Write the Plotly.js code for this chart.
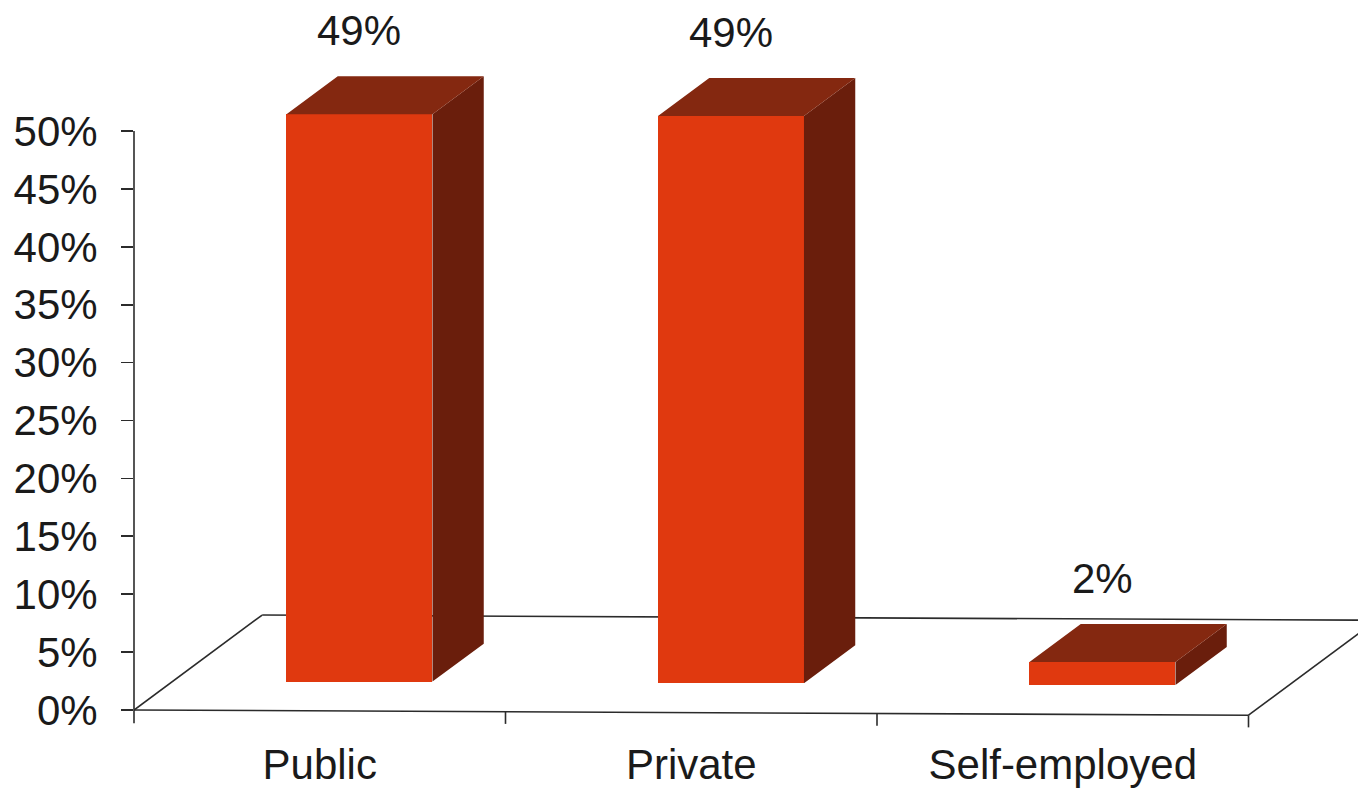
<!DOCTYPE html>
<html>
<head>
<meta charset="utf-8">
<script src="https://cdn.plot.ly/plotly-3.0.1.min.js"></script>
<style>html,body{margin:0;padding:0;background:#fff;}#chart{width:1358px;height:793px;}</style>
</head>
<body>
<div id="chart"></div>
<script>
// ---- data ----
const categories = ['Public', 'Private', 'Self-employed'];
const values = [49, 49, 2];
const valueLabels = ['49%', '49%', '2%'];
const yTickVals = [0, 5, 10, 15, 20, 25, 30, 35, 40, 45, 50];
const yTickText = ['0%', '5%', '10%', '15%', '20%', '25%', '30%', '35%', '40%', '45%', '50%'];

// ---- pseudo-3D geometry (style) ----
const FLOOR_DX = 0.345;   // depth shift in x units
const FLOOR_DY = 8.2;     // depth shift in y units
const FLOOR_TILT = -0.45; // slight tilt of the floor across the span
const BAR_FRONT = 0.31;   // fraction of depth where bar front face sits
const BAR_BACK = 0.71;
const BAR_W = 0.393;
const FRONT_COL = '#E0390F';
const TOP_COL = '#842810';
const SIDE_COL = '#6A1E0C';
const LINE_COL = '#2b2b2b';
const FONT = 'Liberation Sans, Arial, sans-serif';

const n = categories.length;
const xIdx = categories.map((_, i) => i);
const xl = -0.5, xr = n - 0.5;
const tiltAt = x => FLOOR_TILT * (x - xl) / (xr - xl);
const frontShiftX = BAR_FRONT * FLOOR_DX;
const ddx = (BAR_BACK - BAR_FRONT) * FLOOR_DX;
const ddy = (BAR_BACK - BAR_FRONT) * FLOOR_DY;
const barOffset = frontShiftX - BAR_W / 2;
const bases = xIdx.map(i => BAR_FRONT * FLOOR_DY + tiltAt(i + frontShiftX));

const traces = [];
// front faces
traces.push({
  type: 'bar', x: xIdx, y: values, base: bases, width: BAR_W, offset: barOffset,
  marker: {color: FRONT_COL, line: {width: 0}}, hoverinfo: 'skip', showlegend: false
});
// top and side faces
const topX = [], topY = [], sideX = [], sideY = [];
values.forEach((v, i) => {
  const b = bases[i];
  const x0 = i + barOffset, x1 = x0 + BAR_W, yt = b + v;
  topX.push(x0, x0 + ddx, x1 + ddx, x1, x0, null);
  topY.push(yt, yt + ddy, yt + ddy, yt, yt, null);
  sideX.push(x1, x1, x1 + ddx, x1 + ddx, x1, null);
  sideY.push(b, yt, yt + ddy, b + ddy, b, null);
});
traces.push({type: 'scatter', mode: 'lines', x: sideX, y: sideY, fill: 'toself',
  fillcolor: SIDE_COL, line: {width: 0, color: SIDE_COL}, hoverinfo: 'skip', showlegend: false});
traces.push({type: 'scatter', mode: 'lines', x: topX, y: topY, fill: 'toself',
  fillcolor: TOP_COL, line: {width: 0, color: TOP_COL}, hoverinfo: 'skip', showlegend: false});

// floor & axis lines
const shapes = [];
const ln = {color: LINE_COL, width: 1.6};
// y axis line
shapes.push({type: 'line', xref: 'paper', yref: 'y', x0: 0, x1: 0, y0: -1.15, y1: yTickVals[yTickVals.length - 1], line: ln});
// front floor edge
shapes.push({type: 'line', xref: 'x', yref: 'y', x0: xl, y0: 0, x1: xr, y1: FLOOR_TILT, line: ln, layer: 'below'});
// left depth edge
shapes.push({type: 'line', xref: 'x', yref: 'y', x0: xl, y0: 0, x1: xl + FLOOR_DX, y1: FLOOR_DY, line: ln, layer: 'below'});
// back floor edge
shapes.push({type: 'line', xref: 'x', yref: 'y', x0: xl + FLOOR_DX, y0: FLOOR_DY, x1: xr + FLOOR_DX, y1: FLOOR_DY + FLOOR_TILT, line: ln, layer: 'below'});
// right depth edge
shapes.push({type: 'line', xref: 'x', yref: 'y', x0: xr, y0: FLOOR_TILT, x1: xr + FLOOR_DX, y1: FLOOR_DY + FLOOR_TILT, line: ln, layer: 'below'});
// category boundary ticks
for (let i = 0; i < n; i++) {
  const xb = i + 0.5;
  const yb = tiltAt(xb);
  shapes.push({type: 'line', xref: 'x', yref: 'y', x0: xb, x1: xb, y0: yb, y1: yb - 1.05, line: ln});
}

// value labels
const annotations = values.map((v, i) => ({
  x: i + frontShiftX, y: bases[i] + v + ddy, xref: 'x', yref: 'y',
  text: valueLabels[i], showarrow: false, yanchor: 'bottom', xanchor: 'center', yshift: 20,
  font: {family: FONT, size: 42, color: '#1a1a1a'}
}));

// pixel scale: 371.5 px per category, 11.58 px per percent
const W = 1358, H = 793, ML = 134, MB = 63;
const pxX = 371.5, pxY = 11.58;
const plotW = W - ML, plotH = H - MB;
const yMin = -(730 - 710) / pxY;
const layout = {
  width: W, height: H,
  margin: {l: ML, r: 0, t: 0, b: MB, pad: 0},
  paper_bgcolor: '#ffffff', plot_bgcolor: '#ffffff',
  showlegend: false,
  xaxis: {
    range: [xl, xl + plotW / pxX], tickvals: xIdx, ticktext: categories,
    ticks: '', showgrid: false, zeroline: false, showline: false,
    tickfont: {family: FONT, size: 42, color: '#1a1a1a'}, ticklabelstandoff: 6, fixedrange: true
  },
  yaxis: {
    range: [yMin, yMin + plotH / pxY], tickvals: yTickVals, ticktext: yTickText,
    ticks: 'outside', ticklen: 12, tickwidth: 1.6, tickcolor: LINE_COL,
    showgrid: false, zeroline: false, showline: false,
    tickfont: {family: FONT, size: 42, color: '#1a1a1a'}, ticklabelstandoff: 15, fixedrange: true
  },
  shapes: shapes,
  annotations: annotations,
  bargap: 0
};
Plotly.newPlot('chart', traces, layout, {displayModeBar: false, staticPlot: true});
</script>
</body>
</html>
